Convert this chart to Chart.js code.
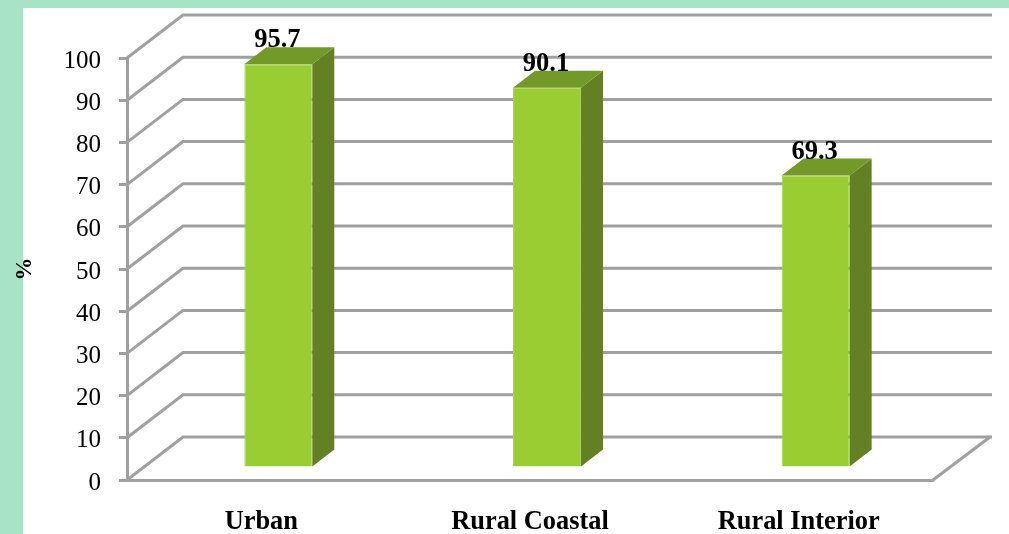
<!DOCTYPE html>
<html>
<head>
<meta charset="utf-8">
<style>
  body { margin: 0; background: #fff; }
</style>
<script src="https://cdn.jsdelivr.net/npm/chart.js@4"></script>
</head>
<body>
<canvas id="myChart" width="1009" height="534"></canvas>
<script>
// chart data
var categories = ["Urban", "Rural Coastal", "Rural Interior"];
var values = [95.7, 90.1, 69.3];
var yMax = 100;
var yStep = 10;

var gridColor = "#a0a0a0";
var serif = "'Liberation Serif', serif";

// fake 3d: wall is pushed back by wall*, bars stand part way in
var wallX = 56, wallY = -43;
var barX = 17, barY = -12;
var depthX = 22, depthY = -17;

// mint frame and white panel
var framePlugin = {
  id: "frame",
  beforeDraw: function(chart) {
    var c = chart.ctx;
    c.save();
    c.fillStyle = "#a9e3c6";
    c.fillRect(0, 0, chart.width, chart.height);
    c.fillStyle = "#fff";
    c.fillRect(23, 8, chart.width - 23, chart.height - 8);
    c.restore();
  }
};

// back wall lines and the diagonals down to the axis
var wallPlugin = {
  id: "wall",
  beforeDatasetsDraw: function(chart) {
    var c = chart.ctx, y = chart.scales.y, area = chart.chartArea;
    c.save();
    c.strokeStyle = gridColor;
    c.lineWidth = 3;
    y.ticks.forEach(function(t) {
      var py = y.getPixelForValue(t.value);
      c.beginPath();
      c.moveTo(area.left, py);
      c.lineTo(area.left + wallX, py + wallY);
      c.lineTo(area.right + wallX + 3, py + wallY);
      c.stroke();
    });
    // floor edge on the right
    c.beginPath();
    c.moveTo(area.right, area.bottom);
    c.lineTo(area.right + wallX + 1, area.bottom + wallY);
    c.stroke();
    c.restore();
  }
};

// shifts the bars back and adds the side and top faces
var barPlugin = {
  id: "bars3d",
  beforeDatasetDraw: function(chart) {
    chart.ctx.save();
    chart.ctx.translate(barX, barY);
  },
  afterDatasetDraw: function(chart, args) {
    var c = chart.ctx;
    args.meta.data.forEach(function(bar) {
      var r = bar.x + bar.width / 2, l = bar.x - bar.width / 2;
      c.fillStyle = "#648024";
      c.beginPath();
      c.moveTo(r, bar.y);
      c.lineTo(r + depthX, bar.y + depthY);
      c.lineTo(r + depthX, bar.base + depthY);
      c.lineTo(r, bar.base);
      c.closePath();
      c.fill();
      c.fillStyle = "#739a28";
      c.beginPath();
      c.moveTo(l, bar.y);
      c.lineTo(l + depthX, bar.y + depthY);
      c.lineTo(r + depthX, bar.y + depthY);
      c.lineTo(r, bar.y);
      c.closePath();
      c.fill();
    });
    c.restore();
  }
};

// value above each bar
var labelPlugin = {
  id: "valueLabels",
  afterDatasetsDraw: function(chart) {
    var c = chart.ctx;
    c.save();
    c.font = "bold 26.5px " + serif;
    c.fillStyle = "#000";
    c.textAlign = "center";
    c.textBaseline = "alphabetic";
    chart.getDatasetMeta(0).data.forEach(function(bar, i) {
      c.fillText(values[i].toFixed(1), bar.x + barX - 1, bar.y + barY - 17);
    });
    c.restore();
  }
};

new Chart("myChart", {
  type: "bar",
  data: {
    labels: categories,
    datasets: [{
      data: values,
      backgroundColor: "#9acd32",
      borderColor: "#a8d458",
      borderWidth: 1,
      categoryPercentage: 1,
      barPercentage: 0.253,
      clip: false
    }]
  },
  options: {
    responsive: false,
    devicePixelRatio: 1,
    animation: false,
    layout: { padding: { top: 58, right: 76, bottom: 0, left: 0 } },
    plugins: {
      legend: { display: false },
      title: { display: false },
      tooltip: { enabled: false }
    },
    scales: {
      x: {
        afterFit: function(scale) { scale.height = 54; },
        grid: { display: false },
        border: { color: gridColor, width: 3 },
        ticks: {
          color: "#000",
          padding: 18,
          maxRotation: 0,
          font: { family: serif, size: 26.4, weight: "bold" }
        }
      },
      y: {
        min: 0,
        max: yMax,
        afterFit: function(scale) { scale.width = 127; },
        grid: { drawOnChartArea: false, color: gridColor, lineWidth: 3, tickLength: 8 },
        border: { color: gridColor, width: 3 },
        title: {
          display: true,
          text: "%",
          color: "#000",
          padding: { top: 11, bottom: 0 },
          font: { family: serif, size: 23, weight: "bold" }
        },
        ticks: {
          stepSize: yStep,
          color: "#000",
          padding: 18,
          labelOffset: 3,
          font: { family: serif, size: 25 }
        }
      }
    }
  },
  plugins: [framePlugin, wallPlugin, barPlugin, labelPlugin]
});
</script>
</body>
</html>
